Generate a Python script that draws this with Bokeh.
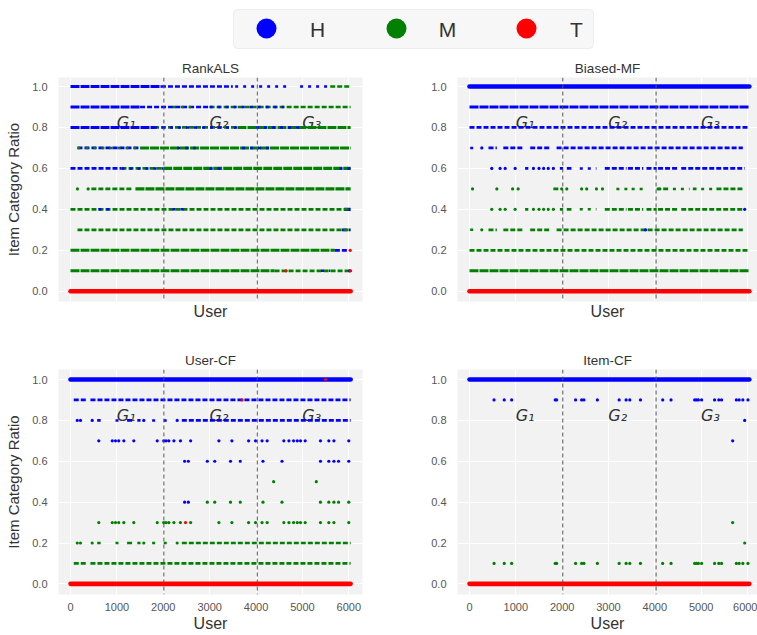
from bokeh.plotting import figure
from bokeh.models import Range1d, FixedTicker, Span, ColumnDataSource, BoxAnnotation, NumeralTickFormatter
from bokeh.layouts import column, row
from bokeh.core.properties import value
from bokeh.embed import file_html
from bokeh.resources import INLINE

# ---------------- data ----------------
categories = ["H", "M", "T"]
panel_titles = ["RankALS", "Biased-MF", "User-CF", "Item-CF"]
x_ticks = [0, 1000, 2000, 3000, 4000, 5000, 6000]
y_ticks = [0.0, 0.2, 0.4, 0.6, 0.8, 1.0]
group_bounds = [2013, 4027]
group_labels = ["G\u2081", "G\u2082", "G\u2083"]
group_label_x = [1200, 3200, 5200]
group_label_y = [0.825, 0.825, 0.825]

# runs of (nearly) contiguous users: (ratio, first user, last user, category, density)
rankals_runs = [
    (1.0, 0, 1950, "H", "dense"), (1.0, 1950, 3500, "H", "gappy"), (1.0, 3550, 4750, "H", "sparse"),
    (1.0, 4950, 5600, "H", "sparse"), (1.0, 5600, 6040, "M", "gappy"),
    (0.9, 0, 1500, "H", "dense"), (0.9, 1500, 3000, "H", "gappy"), (0.9, 3000, 6040, "M", "gappy"),
    (0.9, 3000, 4600, "H", "sparse"), (0.9, 2200, 2600, "M", "sparse"),
    (0.8, 0, 1800, "H", "dense"), (0.8, 1800, 3600, "M", "gappy"), (0.8, 1800, 3600, "H", "sparse"),
    (0.8, 3600, 6040, "M", "dense"), (0.8, 4000, 5000, "H", "sparse"),
    (0.7, 150, 1500, "H", "gappy"), (0.7, 150, 1500, "M", "sparse"), (0.7, 1500, 6040, "M", "dense"),
    (0.7, 2300, 2700, "H", "sparse"), (0.7, 3700, 4300, "H", "sparse"),
    (0.6, 0, 1100, "H", "gappy"), (0.6, 1100, 2000, "M", "gappy"), (0.6, 1100, 2000, "H", "sparse"),
    (0.6, 2000, 6040, "M", "dense"), (0.6, 3000, 3300, "H", "sparse"), (0.6, 5800, 6040, "H", "sparse"),
    (0.5, 450, 1350, "M", "gappy"), (0.5, 1400, 6040, "M", "dense"),
    (0.4, 0, 6040, "M", "gappy"), (0.4, 600, 900, "H", "sparse"), (0.4, 2200, 2500, "H", "sparse"),
    (0.4, 5900, 6040, "H", "dense"),
    (0.3, 150, 6040, "M", "gappy"), (0.3, 5850, 6040, "H", "gappy"),
    (0.2, 0, 5700, "M", "dense"), (0.2, 5700, 6000, "H", "gappy"),
    (0.1, 0, 4400, "M", "dense"), (0.1, 4400, 6040, "M", "gappy"), (0.1, 5400, 5600, "H", "sparse"),
    (0.0, 0, 6040, "T", "solid"),
]
rankals_points = [
    (0.5, 150, "M"), (0.5, 380, "M"), (0.2, 6030, "T"), (0.1, 4650, "T"), (0.1, 6020, "H"), (0.1, 6040, "T"),
]

biasedmf_runs = [
    (1.0, 0, 6040, "H", "solid"), (0.9, 0, 6040, "H", "dense"), (0.8, 0, 6040, "H", "gappy"),
    (0.7, 15, 160, "H", "sparse"), (0.7, 410, 590, "H", "gappy"), (0.7, 730, 1160, "H", "gappy"),
    (0.7, 1310, 1740, "H", "gappy"), (0.7, 1880, 5900, "H", "gappy"),
    (0.6, 1200, 1270, "H", "gappy"), (0.6, 1950, 2020, "H", "gappy"), (0.6, 2100, 2200, "H", "gappy"),
    (0.6, 2380, 2740, "H", "sparse"), (0.6, 2920, 3390, "H", "gappy"), (0.6, 3420, 3750, "H", "gappy"),
    (0.6, 3820, 4040, "H", "gappy"), (0.6, 4070, 4500, "H", "gappy"), (0.6, 4570, 5940, "H", "gappy"),
    (0.5, 1810, 1920, "M", "gappy"), (0.5, 3170, 3460, "M", "sparse"), (0.5, 3500, 3750, "M", "sparse"),
    (0.5, 4180, 4320, "M", "gappy"), (0.5, 4390, 4750, "M", "sparse"), (0.5, 4820, 4900, "M", "gappy"),
    (0.5, 5000, 5260, "M", "sparse"), (0.5, 5330, 5900, "M", "gappy"),
    (0.4, 1200, 1270, "M", "gappy"), (0.4, 1950, 2020, "M", "gappy"), (0.4, 2100, 2200, "M", "gappy"),
    (0.4, 2380, 2740, "M", "sparse"), (0.4, 2920, 3390, "M", "gappy"), (0.4, 3420, 3750, "M", "gappy"),
    (0.4, 3820, 4040, "M", "gappy"), (0.4, 4070, 4500, "M", "gappy"), (0.4, 4570, 5900, "M", "gappy"),
    (0.3, 15, 160, "M", "sparse"), (0.3, 410, 590, "M", "gappy"), (0.3, 730, 1160, "M", "gappy"),
    (0.3, 1310, 1740, "M", "gappy"), (0.3, 1880, 5900, "M", "gappy"),
    (0.2, 0, 6000, "M", "gappy"), (0.1, 0, 6040, "M", "dense"), (0.0, 0, 6040, "T", "solid"),
]
biasedmf_points = [
    (0.7, 265, "H"),
    (0.6, 480, "H"), (0.6, 660, "H"), (0.6, 770, "H"), (0.6, 985, "H"), (0.6, 1380, "H"),
    (0.6, 1500, "H"), (0.6, 1600, "H"), (0.6, 1700, "H"), (0.6, 1810, "H"),
    (0.5, 65, "M"), (0.5, 590, "M"), (0.5, 930, "M"), (0.5, 1050, "M"), (0.5, 1990, "M"), (0.5, 2100, "M"),
    (0.5, 2420, "M"), (0.5, 2530, "M"), (0.5, 2740, "M"), (0.5, 2870, "M"), (0.5, 4070, "M"), (0.5, 4110, "M"),
    (0.4, 480, "M"), (0.4, 660, "M"), (0.4, 770, "M"), (0.4, 985, "M"), (0.4, 1380, "M"),
    (0.4, 1500, "M"), (0.4, 1600, "M"), (0.4, 1700, "M"), (0.4, 1810, "M"), (0.4, 5940, "H"),
    (0.3, 265, "M"), (0.3, 3800, "H"),
]

usercf_runs = [
    (1.0, 0, 6040, "H", "solid"),
    (0.9, 70, 330, "H", "gappy"), (0.9, 430, 6040, "H", "gappy"),
    (0.8, 575, 650, "H", "gappy"), (0.8, 970, 1110, "H", "sparse"), (0.8, 1220, 1330, "H", "gappy"),
    (0.8, 1440, 1510, "H", "gappy"), (0.8, 1760, 1900, "H", "sparse"), (0.8, 2010, 2150, "H", "sparse"),
    (0.8, 2400, 6040, "H", "gappy"),
    (0.2, 575, 650, "M", "gappy"), (0.2, 970, 1110, "M", "sparse"), (0.2, 1220, 1330, "M", "gappy"),
    (0.2, 1440, 1510, "M", "gappy"), (0.2, 1760, 1900, "M", "sparse"), (0.2, 2010, 2150, "M", "sparse"),
    (0.2, 2400, 6040, "M", "gappy"),
    (0.1, 70, 330, "M", "gappy"), (0.1, 430, 6040, "M", "gappy"),
    (0.0, 0, 6040, "T", "solid"),
]
usercf_points = [
    (1.0, 5500, "T"), (0.9, 3700, "T"),
    (0.8, 145, "H"), (0.8, 215, "H"), (0.8, 467, "H"), (0.8, 1580, "H"), (0.8, 2300, "H"),
    (0.7, 610, "H"), (0.7, 900, "H"), (0.7, 970, "H"), (0.7, 1040, "H"), (0.7, 1150, "H"), (0.7, 1365, "H"),
    (0.7, 1870, "H"), (0.7, 2010, "H"), (0.7, 2060, "H"), (0.7, 2120, "H"), (0.7, 2230, "H"), (0.7, 2370, "H"),
    (0.7, 2590, "H"), (0.7, 3200, "H"), (0.7, 3480, "H"), (0.7, 3840, "H"), (0.7, 3990, "H"), (0.7, 4130, "H"),
    (0.7, 4240, "H"), (0.7, 4600, "H"), (0.7, 4710, "H"), (0.7, 4810, "H"), (0.7, 4890, "H"), (0.7, 4960, "H"),
    (0.7, 5060, "H"), (0.7, 5390, "H"), (0.7, 5570, "H"), (0.7, 5680, "H"), (0.7, 6000, "H"),
    (0.6, 2460, "H"), (0.6, 2540, "H"), (0.6, 2950, "H"), (0.6, 3110, "H"), (0.6, 3450, "H"), (0.6, 3660, "H"),
    (0.6, 4150, "H"), (0.6, 4560, "H"), (0.6, 5390, "H"), (0.6, 5570, "H"), (0.6, 5680, "H"), (0.6, 5780, "H"),
    (0.6, 6000, "H"),
    (0.5, 4380, "M"), (0.5, 5300, "M"),
    (0.4, 2460, "H"), (0.4, 2540, "H"), (0.4, 2950, "M"), (0.4, 3110, "M"), (0.4, 3450, "M"), (0.4, 3660, "M"),
    (0.4, 4150, "M"), (0.4, 4560, "M"), (0.4, 5390, "M"), (0.4, 5570, "M"), (0.4, 5680, "M"), (0.4, 5780, "M"),
    (0.4, 6000, "M"),
    (0.3, 610, "M"), (0.3, 900, "M"), (0.3, 970, "M"), (0.3, 1040, "M"), (0.3, 1150, "M"), (0.3, 1365, "M"),
    (0.3, 1870, "M"), (0.3, 2010, "M"), (0.3, 2060, "M"), (0.3, 2120, "M"), (0.3, 2230, "M"), (0.3, 2370, "M"),
    (0.3, 2480, "T"), (0.3, 2590, "M"), (0.3, 3200, "M"), (0.3, 3480, "M"), (0.3, 3840, "M"), (0.3, 3990, "M"),
    (0.3, 4130, "M"), (0.3, 4240, "M"), (0.3, 4600, "M"), (0.3, 4710, "M"), (0.3, 4810, "M"), (0.3, 4890, "M"),
    (0.3, 4960, "M"), (0.3, 5060, "M"), (0.3, 5390, "M"), (0.3, 5570, "M"), (0.3, 5680, "M"), (0.3, 6000, "M"),
    (0.2, 145, "M"), (0.2, 215, "M"), (0.2, 467, "M"), (0.2, 1580, "M"), (0.2, 2300, "M"),
]

itemcf_runs = [
    (1.0, 0, 6040, "H", "solid"),
    (0.0, 0, 6040, "T", "solid"),
]
itemcf_points = [
    (0.9, 530, "H"), (0.9, 750, "H"), (0.9, 910, "H"), (0.9, 1850, "H"), (0.9, 1880, "H"), (0.9, 2290, "H"),
    (0.9, 2420, "H"), (0.9, 2470, "H"), (0.9, 2760, "H"), (0.9, 3230, "H"), (0.9, 3380, "H"), (0.9, 3460, "H"),
    (0.9, 3690, "H"), (0.9, 4170, "H"), (0.9, 4350, "H"), (0.9, 4860, "H"), (0.9, 4900, "H"), (0.9, 4940, "H"),
    (0.9, 5010, "H"), (0.9, 5290, "H"), (0.9, 5380, "H"), (0.9, 5440, "H"), (0.9, 5760, "H"), (0.9, 5820, "H"),
    (0.9, 5900, "H"), (0.9, 6010, "H"),
    (0.8, 5940, "H"), (0.7, 5680, "H"), (0.3, 5680, "M"), (0.2, 5940, "M"),
    (0.1, 530, "M"), (0.1, 750, "M"), (0.1, 910, "M"), (0.1, 1850, "M"), (0.1, 1880, "M"), (0.1, 2290, "M"),
    (0.1, 2420, "M"), (0.1, 2470, "M"), (0.1, 2760, "M"), (0.1, 3230, "M"), (0.1, 3380, "M"), (0.1, 3460, "M"),
    (0.1, 3690, "M"), (0.1, 4170, "M"), (0.1, 4350, "M"), (0.1, 4860, "M"), (0.1, 4900, "M"), (0.1, 4940, "M"),
    (0.1, 5010, "M"), (0.1, 5290, "M"), (0.1, 5380, "M"), (0.1, 5440, "M"), (0.1, 5760, "M"), (0.1, 5820, "M"),
    (0.1, 5900, "M"), (0.1, 6010, "M"),
]

# ---------------- style ----------------
COLORS = {"H": "#0000ff", "M": "#008000", "T": "#ff0000"}
DENSITY_ORDER = ["solid", "dense", "gappy", "sparse"]
DENSITY_STYLE = {
    "solid": dict(line_width=4.6, line_dash="solid", line_cap="round"),
    "dense": dict(line_width=3.1, line_dash="9 1", line_cap="butt"),
    "gappy": dict(line_width=2.7, line_dash="5 2", line_cap="butt"),
    "sparse": dict(line_width=2.5, line_dash="3 5", line_cap="butt"),
}
FONT = "Liberation Sans"
TICK_COLOR = "#555555"
TEXT_COLOR = "#333333"


def make_panel(title, runs, points, ylabel, xticklabels, xr, yr, w, h, bl, br, bt, bb):
    p = figure(width=w, height=h, x_range=Range1d(*xr), y_range=Range1d(*yr),
               output_backend="svg", toolbar_location=None,
               min_border_left=bl, min_border_right=br, min_border_top=bt, min_border_bottom=bb,
               background_fill_color="#f2f2f2", border_fill_color="white", outline_line_color=None)
    p.title.text = title
    p.title.align = "center"
    p.title.text_font = FONT
    p.title.text_font_size = "13.5px"
    p.title.text_font_style = "normal"
    p.title.text_color = TEXT_COLOR
    p.title.standoff = 4

    p.xaxis.ticker = FixedTicker(ticks=x_ticks if xticklabels else [])
    p.yaxis.ticker = FixedTicker(ticks=y_ticks)
    p.xgrid.ticker = FixedTicker(ticks=x_ticks)
    p.ygrid.ticker = FixedTicker(ticks=y_ticks)
    p.yaxis.formatter = NumeralTickFormatter(format="0.0")
    p.grid.grid_line_color = "white"
    p.grid.grid_line_width = 1
    for ax in (p.xaxis, p.yaxis):
        ax.axis_line_color = None
        ax.major_tick_line_color = None
        ax.minor_tick_line_color = None
        ax.major_tick_out = 0
        ax.minor_tick_out = 0
        ax.major_label_text_font = FONT
        ax.major_label_text_font_size = "11px"
        ax.major_label_text_color = TICK_COLOR
        ax.axis_label_text_font = FONT
        ax.axis_label_text_font_style = "normal"
        ax.axis_label_text_color = TEXT_COLOR
    p.yaxis.major_label_standoff = 11
    p.xaxis.axis_label = "User"
    p.xaxis.axis_label_text_font_size = "16px"
    if xticklabels:
        p.xaxis.major_label_standoff = 8
        p.xaxis.axis_label_standoff = 1
    else:
        p.xaxis.major_label_standoff = 0
        p.xaxis.axis_label_standoff = 1
    if ylabel:
        p.yaxis.axis_label = "Item Category Ratio"
        p.yaxis.axis_label_text_font_size = "15px"
        p.yaxis.axis_label_standoff = 7

    # group annotations
    p.text(x=group_label_x, y=group_label_y, text=group_labels, text_font=value("DejaVu Sans"),
           text_font_style="italic", text_font_size="16px", text_color=TEXT_COLOR,
           text_align="center", text_baseline="middle")
    for b in group_bounds:
        p.add_layout(Span(location=b, dimension="height", line_color="#555555",
                          line_dash="4 3", line_width=1))

    # runs of markers
    for dens in DENSITY_ORDER:
        for cat in categories:
            sel = [r for r in runs if r[3] == cat and r[4] == dens]
            if not sel:
                continue
            src = ColumnDataSource(dict(y=[r[0] for r in sel], x0=[r[1] for r in sel], x1=[r[2] for r in sel]))
            p.segment(x0="x0", y0="y", x1="x1", y1="y", source=src, line_color=COLORS[cat],
                      **DENSITY_STYLE[dens])
    # isolated markers
    for cat in categories:
        sel = [q for q in points if q[2] == cat]
        if not sel:
            continue
        p.scatter(x=[q[1] for q in sel], y=[q[0] for q in sel], marker="circle", size=3.2,
                  fill_color=COLORS[cat], line_color=None)
    return p


# ---------------- legend strip ----------------
LW, LH = 757, 56
lg = figure(width=LW, height=LH, x_range=Range1d(0, LW), y_range=Range1d(LH, 0),
            output_backend="svg", toolbar_location=None, min_border=0,
            x_axis_location=None, y_axis_location=None, outline_line_color=None)
lg.grid.visible = False
lg.add_layout(BoxAnnotation(left=233, right=593, top=9, bottom=48, fill_color="#f7f7f7", fill_alpha=1,
                            line_color="#cccccc", line_width=1, border_radius=4, level="underlay"))
legend_marker_x = [266, 396, 526]
legend_label_x = [317, 447, 576]
lg.scatter(x=legend_marker_x, y=[28, 28, 28], marker="circle", size=20,
           fill_color=[COLORS[c] for c in categories], line_color=None)
lg.text(x=legend_label_x, y=[29, 29, 29], text=categories, text_font=value(FONT), text_font_size="21px",
        text_color=TEXT_COLOR, text_align="center", text_baseline="middle")

XR_LEFT = (-259, 6296)
XR_RIGHT = (-259, 6216)
YR_TOP = (-0.05, 1.044)
YR_BOT = (-0.052, 1.049)

tl = make_panel(panel_titles[0], rankals_runs, rankals_points, True, False, XR_LEFT, YR_TOP,
                372, 284, 58, 10, 21, 39)
tr = make_panel(panel_titles[1], biasedmf_runs, biasedmf_points, False, False, XR_RIGHT, YR_TOP,
                385, 284, 85, 0, 21, 39)
bl = make_panel(panel_titles[2], usercf_runs, usercf_points, True, True, XR_LEFT, YR_BOT,
                372, 295, 58, 10, 29, 41)
br = make_panel(panel_titles[3], itemcf_runs, itemcf_points, False, True, XR_RIGHT, YR_BOT,
                385, 295, 85, 0, 29, 41)

layout = column(lg, row(tl, tr), row(bl, br))
open("out.html", "w").write(file_html(layout, INLINE))
